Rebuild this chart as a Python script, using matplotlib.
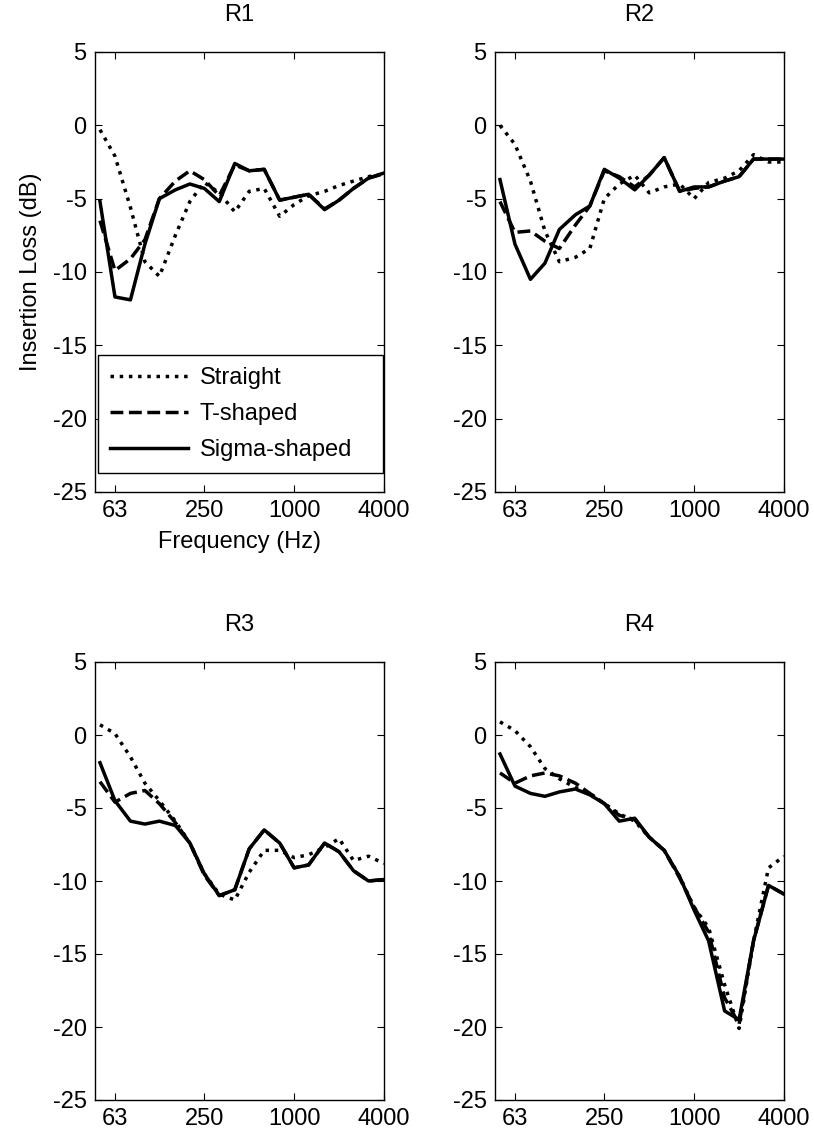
import numpy as np
import matplotlib
matplotlib.use('Agg')
import matplotlib.pyplot as plt

plt.rcParams['font.family'] = ['Liberation Sans', 'DejaVu Sans']

# 1/3 octave band centre frequencies (Hz)
freq = [50, 63, 80, 100, 125, 160, 200, 250, 315, 400, 500, 630, 800,
        1000, 1250, 1600, 2000, 2500, 3150, 4000]

r1_straight = [-0.3, -2.1, -5.6, -9.3, -10.3, -7.5, -5.2, -3.9, -4.6, -5.9, -4.5, -4.3,
               -6.2, -5.4, -4.8, -4.5, -4.1, -3.8, -3.5, -3.3]
r1_t = [-6.5, -9.9, -9.1, -7.8, -5.0, -3.8, -3.1, -3.7, -4.8, -2.7, -3.1, -3.0,
        -5.1, -4.9, -4.7, -5.7, -5.1, -4.3, -3.6, -3.3]
r1_sigma = [-5.2, -11.7, -11.9, -8.1, -5.0, -4.4, -4.0, -4.3, -5.2, -2.6, -3.1, -3.0,
            -5.1, -4.9, -4.7, -5.75, -5.1, -4.3, -3.6, -3.25]

r2_straight = [0.0, -1.3, -3.8, -7.2, -9.3, -9.0, -8.4, -5.0, -4.0, -3.4, -4.6, -4.2,
               -4.0, -5.0, -3.9, -3.6, -3.1, -2.0, -2.5, -2.5]
r2_t = [-5.2, -7.3, -7.2, -7.9, -8.4, -6.8, -5.5, -3.1, -3.5, -4.2, -3.4, -2.2,
        -4.5, -4.3, -4.2, -3.8, -3.5, -2.3, -2.3, -2.3]
r2_sigma = [-3.7, -8.1, -10.5, -9.4, -7.1, -6.1, -5.5, -3.0, -3.6, -4.4, -3.4, -2.2,
            -4.5, -4.2, -4.2, -3.8, -3.5, -2.3, -2.3, -2.3]

r3_straight = [0.7, 0.1, -1.5, -3.3, -4.5, -5.9, -7.4, -9.5, -10.9, -11.3, -9.4, -7.9,
               -7.9, -8.4, -8.2, -7.7, -7.1, -8.6, -8.3, -8.8]
r3_t = [-3.2, -4.6, -4.0, -3.8, -4.7, -6.0, -7.4, -9.6, -11.0, -10.6, -7.8, -6.5,
        -7.4, -9.1, -8.9, -7.4, -8.0, -9.3, -10.0, -9.9]
r3_sigma = [-1.9, -4.5, -5.9, -6.1, -5.9, -6.2, -7.4, -9.5, -11.0, -10.6, -7.8, -6.5,
            -7.4, -9.1, -8.9, -7.4, -8.0, -9.3, -10.0, -9.9]

r4_straight = [0.9, 0.3, -0.8, -2.3, -3.0, -3.6, -4.0, -4.7, -5.4, -5.9, -7.0, -7.9,
               -9.7, -11.8, -13.2, -17.1, -20.1, -14.1, -9.1, -8.3]
r4_t = [-2.6, -3.3, -2.8, -2.6, -2.8, -3.3, -4.0, -4.7, -5.5, -5.8, -7.0, -7.9,
        -9.8, -11.8, -13.5, -18.0, -19.8, -14.1, -10.3, -10.9]
r4_sigma = [-1.3, -3.5, -4.0, -4.2, -3.9, -3.7, -4.1, -4.7, -5.9, -5.7, -7.0, -7.9,
            -9.7, -12.0, -14.1, -18.9, -19.5, -14.1, -10.3, -10.9]

titles = ['R1', 'R2', 'R3', 'R4']
data = [(r1_straight, r1_t, r1_sigma), (r2_straight, r2_t, r2_sigma),
        (r3_straight, r3_t, r3_sigma), (r4_straight, r4_t, r4_sigma)]
labels = ['Straight', 'T-shaped', 'Sigma-shaped']
xticks = [63, 250, 1000, 4000]
yticks = [5, 0, -5, -10, -15, -20, -25]

fig = plt.figure(figsize=(8.14, 11.37), dpi=100)
W, H = 814.0, 1137.0
# axes boxes in pixels: left, top, right, bottom
boxes = [(95, 52, 384, 492), (495, 52, 784, 492),
         (95, 662, 384, 1100), (495, 662, 784, 1100)]
fs = 17
lw = 2.5

for i in range(4):
    l, t, r, b = boxes[i]
    ax = fig.add_axes([l / W, 1 - b / H, (r - l) / W, (b - t) / H])
    s, tt, sg = data[i]
    ax.plot(freq, s, color='black', linestyle=':', linewidth=lw, label=labels[0])
    ax.plot(freq, tt, color='black', linestyle='--', linewidth=lw, label=labels[1])
    ax.plot(freq, sg, color='black', linestyle='-', linewidth=lw, label=labels[2])
    ax.set_xscale('log')
    ax.set_xlim(46.3, 4000)
    ax.set_ylim(-25, 5)
    ax.set_xticks(xticks)
    ax.set_xticklabels([str(v) for v in xticks])
    ax.minorticks_off()
    ax.set_yticks(yticks)
    ax.set_yticklabels([str(v) for v in yticks])
    ax.tick_params(direction='in', top=True, right=True, length=5, width=0.8,
                   labelsize=fs, pad=6)
    for sp in ax.spines.values():
        sp.set_linewidth(1.0)
    ax.set_title(titles[i], fontsize=fs, pad=22)
    if i == 0:
        ax.set_ylabel('Insertion Loss (dB)', fontsize=fs, labelpad=8)
        ax.set_xlabel('Frequency (Hz)', fontsize=fs, labelpad=6)
        leg = ax.legend(loc='lower left', bbox_to_anchor=(0.01, 0.043, 0.987, 0.273),
                        mode='expand', borderaxespad=0, fontsize=fs, fancybox=False,
                        handlelength=3.3, labelspacing=0.6, handletextpad=0.5,
                        borderpad=0.5)
        leg.get_frame().set_edgecolor('black')
        leg.get_frame().set_linewidth(1.0)
        leg.get_frame().set_alpha(1)

fig.savefig('out.png', dpi=100)
